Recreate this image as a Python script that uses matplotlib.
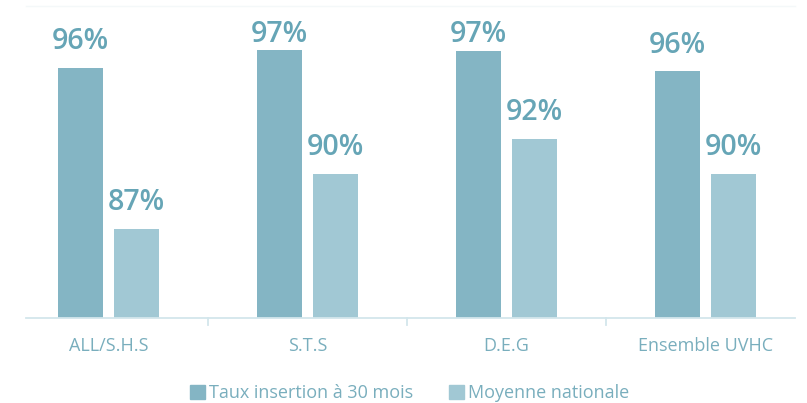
import matplotlib
matplotlib.use("Agg")
import matplotlib.pyplot as plt
import numpy as np
from matplotlib.patches import Patch

categories = ["ALL/S.H.S", "S.T.S", "D.E.G", "Ensemble UVHC"]
taux_insertion = [95.9, 96.9, 96.8, 95.7]
moyenne_nationale = [86.95, 90.0, 91.95, 90.0]
series_names = ["Taux insertion à 30 mois", "Moyenne nationale"]

dark = "#84B5C4"
light = "#A1C8D4"
label_col = "#66A5B6"
tick_col = "#79AEBD"
axis_col = "#D3E6EC"

plt.rcParams['font.family'] = ['Open Sans', 'DejaVu Sans']

fig = plt.figure(figsize=(8.07, 4.03), dpi=100)
ax = fig.add_axes([9/807, (403-317.7)/403, 796/807, (317.7-6)/403])

x = np.arange(len(categories))
w = 0.226
off = 0.141
b1 = ax.bar(x - off, taux_insertion, width=w, color=dark)
b2 = ax.bar(x + off, moyenne_nationale, width=w, color=light)

ymin = 82
ax.set_ylim(ymin, ymin + (317.7-6)/18)
ax.set_xlim(-0.5, 3.5)

gap = 18.5 / 18          # label gap above bar (data units)
cap = ymin + (317.7-41.7)/18   # highest allowed label baseline
for bars, vals in ((b1, taux_insertion), (b2, moyenne_nationale)):
    for rect, v in zip(bars, vals):
        ax.text(rect.get_x() + rect.get_width()/2, min(v + gap, cap), f"{v:.0f}%",
                ha="center", va="baseline", fontsize=20.5, fontweight="semibold",
                color=label_col)

for s in ax.spines.values():
    s.set_visible(False)
ax.axhline(ymin, xmin=17/796, xmax=786/796, color=axis_col, lw=1.3, clip_on=False)
ax.axhline(ax.get_ylim()[1], xmin=17/796, xmax=786/796, color="#F4F8F9", lw=1, clip_on=False)
for t in [0.5, 1.5, 2.5]:
    ax.plot([t, t], [ymin, ymin - 0.4], color=axis_col, lw=1.3, clip_on=False)

ax.set_yticks([])
ax.set_xticks(x)
ax.set_xticklabels(categories, fontsize=13, color=tick_col)
ax.tick_params(axis='x', length=0, pad=14)

handles = [Patch(color=dark), Patch(color=light)]
fig.legend(handles, series_names, loc="center", bbox_to_anchor=(409.5/807, 1 - 393/403),
           ncol=2, frameon=False, fontsize=13, labelcolor=tick_col,
           handlelength=0.85, handleheight=0.85, handletextpad=0.2, columnspacing=2.0,
           borderpad=0, borderaxespad=0)

fig.savefig("out.png", dpi=100)
